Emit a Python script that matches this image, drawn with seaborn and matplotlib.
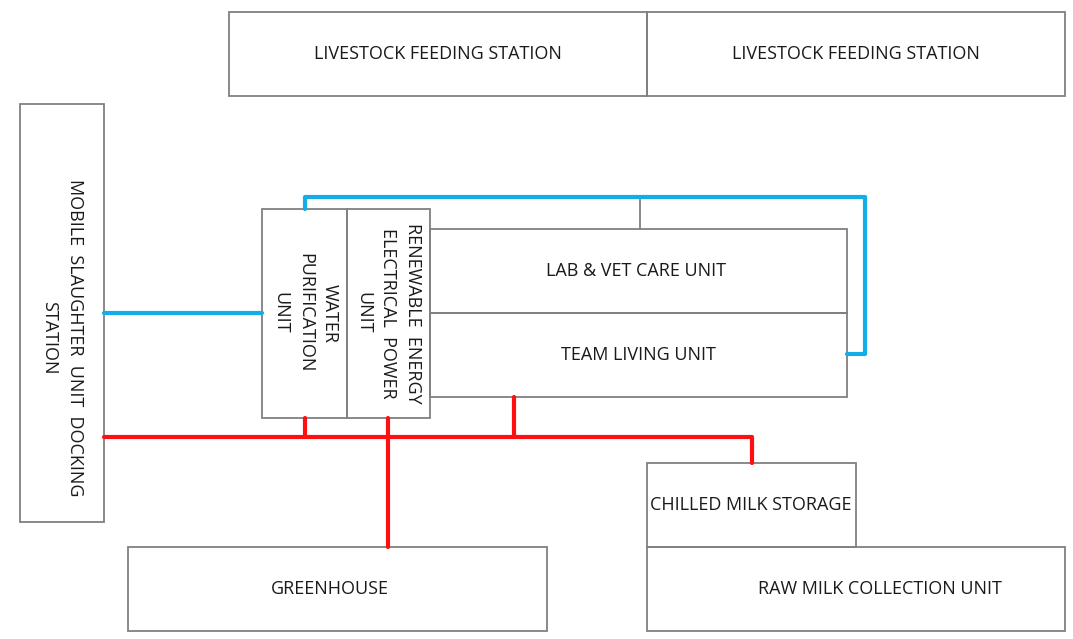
import pandas as pd
import matplotlib.pyplot as plt
import seaborn as sns
from matplotlib.patches import Rectangle

# Boxes of the site layout (pixel units, y grows downward)
box_names = ["LIVESTOCK FEEDING STATION", "LIVESTOCK FEEDING STATION",
             "MOBILE  SLAUGHTER  UNIT  DOCKING\nSTATION",
             "WATER\nPURIFICATION\nUNIT",
             "RENEWABLE  ENERGY\nELECTRICAL  POWER\nUNIT",
             "LAB & VET CARE UNIT", "TEAM LIVING UNIT",
             "CHILLED MILK STORAGE", "RAW MILK COLLECTION UNIT", "GREENHOUSE"]
box_x = [229, 647, 20, 262, 347, 430, 430, 647, 647, 128]
box_y = [12, 12, 104, 209, 209, 229, 313, 463, 547, 547]
box_w = [418, 418, 84, 85, 83, 417, 417, 209, 418, 419]
box_h = [84, 84, 418, 209, 209, 84, 84, 84, 84, 84]
label_x = [438, 856, 62, 305, 388, 636, 638, 751, 880, 330]
label_y = [54, 54, 338, 313, 313, 271, 355, 505, 589, 589]
label_rot = [0, 0, -90, -90, -90, 0, 0, 0, 0, 0]

# Connector polylines: water (blue) and power (red)
pipe_id = ["b1", "b1", "b2", "b2", "b2", "b2", "b2",
           "r1", "r1", "r1", "r2", "r2", "r3", "r3", "r4", "r4"]
pipe_kind = ["water"] * 7 + ["power"] * 9
pipe_x = [104, 262, 305, 305, 865, 865, 847,
          104, 752, 752, 305, 305, 388, 388, 514, 514]
pipe_y = [313, 313, 209, 197, 197, 354, 354,
          437, 437, 463, 418, 437, 418, 547, 397, 437]

# Plain grey link between the blue pipe and the lab unit
link_x = [640, 640]
link_y = [197, 229]

pipes = pd.DataFrame({"id": pipe_id, "kind": pipe_kind, "x": pipe_x, "y": pipe_y})

sns.set_theme(style="white")
plt.rcParams['font.family'] = ['Open Sans', 'DejaVu Sans']

fig = plt.figure(figsize=(10.73, 6.39), dpi=100)
ax = fig.add_axes([0, 0, 1, 1])

for i in range(len(box_names)):
    ax.add_patch(Rectangle((box_x[i], box_y[i]), box_w[i], box_h[i],
                           fill=False, edgecolor='#808080', linewidth=1.3))
    ax.text(label_x[i], label_y[i], box_names[i], rotation=label_rot[i],
            ha='center', va='center', multialignment='center',
            fontsize=13, color='#1a1a1a', linespacing=1.5)

ax.plot(link_x, link_y, color='#808080', linewidth=1.3)

sns.lineplot(data=pipes, x="x", y="y", units="id", hue="kind",
             estimator=None, sort=False, ax=ax, linewidth=3,
             palette={"water": "#12aee8", "power": "#ff0f0f"}, legend=False)

ax.set_xlim(0, 1073)
ax.set_ylim(639, 0)
ax.axis('off')

plt.savefig("out.png", dpi=100)
